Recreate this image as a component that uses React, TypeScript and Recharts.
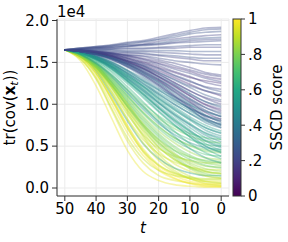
import React from "react";
import { LineChart, Line, XAxis, YAxis, CartesianGrid } from "recharts";

// diffusion timesteps (x axis, reversed)
const T = [50, 45, 40, 35, 30, 25, 20, 15, 10, 5, 0];
const X_TICKS = [0, 10, 20, 30, 40, 50];
const Y_TICKS = [0, 0.5, 1.0, 1.5, 2.0]; // units of 1e4
const CBAR_TICKS = [0, 0.2, 0.4, 0.6, 0.8, 1];
const CBAR_LABELS = ["0", ".2", ".4", ".6", ".8", "1"];

// tr(cov(x_t)) trajectories in units of 1e4, one per sample, with SSCD score
// yellow (high score)
const yellowScores = [0.97, 0.99, 0.93, 0.95, 1.0, 0.91, 0.96, 0.9, 0.94, 0.55, 0.88, 0.92, 0.86, 0.89, 0.98, 0.93, 0.9];
const yellowLines = [
  [1.65, 1.52, 1.22, 0.83, 0.45, 0.2, 0.09, 0.04, 0.02, 0.01, 0.01],
  [1.65, 1.57, 1.37, 1.06, 0.72, 0.43, 0.23, 0.12, 0.05, 0.02, 0.02],
  [1.65, 1.59, 1.44, 1.2, 0.9, 0.61, 0.37, 0.21, 0.11, 0.05, 0.03],
  [1.65, 1.54, 1.3, 0.93, 0.56, 0.3, 0.15, 0.09, 0.06, 0.04, 0.04],
  [1.65, 1.57, 1.38, 1.07, 0.74, 0.45, 0.26, 0.15, 0.08, 0.05, 0.05],
  [1.65, 1.59, 1.44, 1.2, 0.92, 0.63, 0.4, 0.24, 0.14, 0.08, 0.06],
  [1.65, 1.57, 1.38, 1.08, 0.75, 0.47, 0.28, 0.17, 0.11, 0.08, 0.08],
  [1.65, 1.54, 1.31, 0.95, 0.6, 0.35, 0.21, 0.15, 0.12, 0.1, 0.1],
  [1.65, 1.59, 1.45, 1.22, 0.95, 0.67, 0.44, 0.29, 0.2, 0.14, 0.12],
  [1.65, 1.58, 1.4, 1.11, 0.8, 0.53, 0.35, 0.24, 0.18, 0.15, 0.15],
  [1.65, 1.59, 1.46, 1.24, 0.97, 0.71, 0.49, 0.34, 0.25, 0.2, 0.18],
  [1.65, 1.58, 1.41, 1.14, 0.83, 0.58, 0.41, 0.31, 0.25, 0.22, 0.22],
  [1.65, 1.59, 1.47, 1.26, 1.01, 0.75, 0.54, 0.4, 0.32, 0.26, 0.25],
  [1.65, 1.58, 1.42, 1.16, 0.88, 0.64, 0.47, 0.38, 0.33, 0.3, 0.3],
  [1.65, 1.55, 1.33, 1.0, 0.66, 0.39, 0.21, 0.11, 0.06, 0.03, 0.02],
  [1.65, 1.58, 1.41, 1.13, 0.82, 0.54, 0.33, 0.19, 0.11, 0.07, 0.06],
  [1.65, 1.56, 1.36, 1.05, 0.71, 0.44, 0.27, 0.18, 0.13, 0.11, 0.11],
];
// green
const greenScores = [0.72, 0.78, 0.66, 0.5, 0.81, 0.7, 0.84, 0.76, 0.8, 0.74, 0.83, 0.86, 0.79, 0.85, 0.8, 0.75, 0.88];
const greenLines = [
  [1.65, 1.6, 1.5, 1.35, 1.18, 1.01, 0.86, 0.74, 0.65, 0.6, 0.58],
  [1.65, 1.59, 1.49, 1.34, 1.16, 0.98, 0.83, 0.71, 0.62, 0.56, 0.54],
  [1.65, 1.59, 1.49, 1.33, 1.14, 0.96, 0.8, 0.67, 0.58, 0.52, 0.5],
  [1.65, 1.59, 1.48, 1.32, 1.13, 0.94, 0.77, 0.64, 0.54, 0.48, 0.46],
  [1.65, 1.59, 1.48, 1.31, 1.11, 0.91, 0.74, 0.6, 0.5, 0.44, 0.42],
  [1.65, 1.59, 1.47, 1.29, 1.09, 0.89, 0.71, 0.57, 0.47, 0.4, 0.38],
  [1.65, 1.58, 1.47, 1.28, 1.07, 0.86, 0.68, 0.54, 0.43, 0.36, 0.34],
  [1.65, 1.58, 1.46, 1.27, 1.06, 0.84, 0.65, 0.5, 0.39, 0.32, 0.3],
  [1.65, 1.58, 1.46, 1.26, 1.04, 0.82, 0.63, 0.48, 0.37, 0.3, 0.27],
  [1.65, 1.58, 1.45, 1.26, 1.03, 0.8, 0.61, 0.45, 0.34, 0.27, 0.24],
  [1.65, 1.58, 1.45, 1.24, 1.01, 0.78, 0.58, 0.42, 0.3, 0.23, 0.2],
  [1.65, 1.57, 1.44, 1.24, 1.0, 0.76, 0.56, 0.4, 0.28, 0.2, 0.17],
  [1.65, 1.57, 1.44, 1.23, 0.98, 0.74, 0.54, 0.38, 0.25, 0.17, 0.14],
  [1.65, 1.57, 1.43, 1.22, 0.97, 0.73, 0.52, 0.36, 0.23, 0.15, 0.12],
  [1.65, 1.58, 1.44, 1.22, 0.98, 0.76, 0.58, 0.45, 0.37, 0.33, 0.32],
  [1.65, 1.59, 1.47, 1.3, 1.1, 0.9, 0.73, 0.6, 0.51, 0.46, 0.44],
  [1.65, 1.57, 1.42, 1.19, 0.93, 0.69, 0.49, 0.34, 0.24, 0.19, 0.17],
];
// teal
const tealScores = [0.42, 0.45, 0.5, 0.4, 0.55, 0.47, 0.52, 0.6, 0.44, 0.57, 0.5, 0.62, 0.48, 0.58, 0.4, 0.43, 0.52, 0.46, 0.56, 0.6, 0.64, 0.54];
const tealLines = [
  [1.65, 1.63, 1.58, 1.51, 1.41, 1.31, 1.19, 1.09, 0.99, 0.91, 0.85],
  [1.65, 1.62, 1.57, 1.5, 1.4, 1.28, 1.17, 1.06, 0.95, 0.86, 0.8],
  [1.65, 1.62, 1.57, 1.49, 1.38, 1.27, 1.14, 1.03, 0.92, 0.82, 0.76],
  [1.65, 1.62, 1.57, 1.48, 1.37, 1.25, 1.12, 1.0, 0.89, 0.78, 0.72],
  [1.65, 1.62, 1.56, 1.48, 1.36, 1.23, 1.1, 0.97, 0.85, 0.75, 0.68],
  [1.65, 1.62, 1.56, 1.47, 1.35, 1.22, 1.08, 0.95, 0.83, 0.72, 0.65],
  [1.65, 1.62, 1.56, 1.46, 1.34, 1.21, 1.06, 0.93, 0.81, 0.69, 0.62],
  [1.65, 1.62, 1.55, 1.46, 1.33, 1.19, 1.04, 0.9, 0.77, 0.65, 0.58],
  [1.65, 1.62, 1.55, 1.45, 1.32, 1.18, 1.02, 0.88, 0.75, 0.63, 0.55],
  [1.65, 1.62, 1.55, 1.45, 1.31, 1.16, 1.01, 0.86, 0.72, 0.6, 0.52],
  [1.65, 1.61, 1.54, 1.44, 1.3, 1.15, 0.98, 0.83, 0.69, 0.56, 0.48],
  [1.65, 1.61, 1.54, 1.43, 1.29, 1.13, 0.96, 0.81, 0.67, 0.53, 0.45],
  [1.65, 1.61, 1.54, 1.43, 1.28, 1.12, 0.95, 0.79, 0.64, 0.5, 0.42],
  [1.65, 1.61, 1.53, 1.42, 1.27, 1.1, 0.92, 0.76, 0.61, 0.47, 0.38],
  [1.65, 1.63, 1.58, 1.5, 1.4, 1.29, 1.17, 1.05, 0.95, 0.87, 0.82],
  [1.65, 1.62, 1.56, 1.48, 1.37, 1.25, 1.12, 1.0, 0.89, 0.8, 0.74],
  [1.65, 1.62, 1.55, 1.46, 1.34, 1.21, 1.07, 0.94, 0.82, 0.72, 0.66],
  [1.65, 1.61, 1.54, 1.44, 1.31, 1.17, 1.02, 0.88, 0.76, 0.66, 0.6],
  [1.65, 1.61, 1.53, 1.42, 1.28, 1.12, 0.96, 0.81, 0.68, 0.57, 0.5],
  [1.65, 1.6, 1.52, 1.4, 1.25, 1.08, 0.91, 0.75, 0.61, 0.5, 0.43],
  [1.65, 1.6, 1.51, 1.38, 1.21, 1.03, 0.85, 0.68, 0.53, 0.42, 0.35],
  [1.65, 1.59, 1.49, 1.35, 1.17, 0.98, 0.79, 0.62, 0.47, 0.36, 0.3],
];
// dark blue / purple
const blueScores = [0.2, 0.15, 0.22, 0.18, 0.25, 0.12, 0.28, 0.2, 0.3, 0.16, 0.33, 0.24, 0.1, 0.35, 0.27, 0.31, 0.14, 0.21, 0.26, 0.18, 0.29, 0.13, 0.23, 0.32, 0.19, 0.3];
const blueLines = [
  [1.65, 1.64, 1.63, 1.61, 1.58, 1.55, 1.51, 1.46, 1.41, 1.36, 1.33],
  [1.65, 1.64, 1.63, 1.61, 1.58, 1.54, 1.49, 1.44, 1.39, 1.33, 1.3],
  [1.65, 1.64, 1.63, 1.6, 1.57, 1.53, 1.48, 1.42, 1.37, 1.31, 1.27],
  [1.65, 1.64, 1.62, 1.6, 1.56, 1.51, 1.46, 1.39, 1.33, 1.26, 1.22],
  [1.65, 1.64, 1.62, 1.59, 1.55, 1.49, 1.43, 1.35, 1.28, 1.2, 1.15],
  [1.65, 1.64, 1.62, 1.58, 1.53, 1.47, 1.4, 1.32, 1.24, 1.16, 1.1],
  [1.65, 1.64, 1.61, 1.58, 1.52, 1.46, 1.38, 1.29, 1.2, 1.11, 1.05],
  [1.65, 1.64, 1.61, 1.57, 1.51, 1.44, 1.36, 1.26, 1.16, 1.07, 1.0],
  [1.65, 1.64, 1.61, 1.57, 1.5, 1.43, 1.34, 1.24, 1.13, 1.03, 0.96],
  [1.65, 1.64, 1.61, 1.56, 1.5, 1.42, 1.32, 1.21, 1.1, 0.99, 0.92],
  [1.65, 1.63, 1.6, 1.56, 1.49, 1.4, 1.3, 1.19, 1.07, 0.96, 0.88],
  [1.65, 1.63, 1.6, 1.55, 1.48, 1.39, 1.29, 1.17, 1.05, 0.93, 0.85],
  [1.65, 1.63, 1.6, 1.55, 1.48, 1.38, 1.28, 1.15, 1.03, 0.9, 0.82],
  [1.65, 1.63, 1.6, 1.55, 1.47, 1.37, 1.26, 1.13, 1.0, 0.87, 0.78],
  [1.65, 1.63, 1.6, 1.54, 1.46, 1.36, 1.25, 1.11, 0.98, 0.84, 0.75],
  [1.65, 1.63, 1.59, 1.54, 1.45, 1.35, 1.23, 1.09, 0.95, 0.81, 0.72],
  [1.65, 1.64, 1.62, 1.59, 1.55, 1.5, 1.44, 1.38, 1.32, 1.28, 1.25],
  [1.65, 1.64, 1.62, 1.59, 1.54, 1.48, 1.42, 1.34, 1.27, 1.21, 1.18],
  [1.65, 1.63, 1.61, 1.57, 1.52, 1.46, 1.38, 1.3, 1.22, 1.16, 1.12],
  [1.65, 1.64, 1.62, 1.58, 1.52, 1.45, 1.36, 1.26, 1.16, 1.08, 1.03],
  [1.65, 1.63, 1.6, 1.56, 1.5, 1.42, 1.33, 1.23, 1.12, 1.03, 0.98],
  [1.65, 1.64, 1.61, 1.57, 1.51, 1.43, 1.33, 1.22, 1.1, 1.0, 0.94],
  [1.65, 1.63, 1.6, 1.55, 1.48, 1.4, 1.3, 1.18, 1.06, 0.96, 0.9],
  [1.65, 1.63, 1.6, 1.55, 1.47, 1.38, 1.27, 1.15, 1.02, 0.92, 0.86],
  [1.65, 1.63, 1.59, 1.53, 1.45, 1.35, 1.23, 1.1, 0.97, 0.86, 0.8],
  [1.65, 1.63, 1.59, 1.53, 1.44, 1.33, 1.21, 1.07, 0.94, 0.82, 0.76],
];
// light lavender (flat / rising)
const lavenderScores = [0.22, 0.25, 0.2, 0.27, 0.23, 0.24, 0.21, 0.26, 0.22, 0.25, 0.2, 0.23, 0.24, 0.22, 0.2];
const lavenderLines = [
  [1.65, 1.67, 1.69, 1.71, 1.74, 1.76, 1.8, 1.84, 1.88, 1.91, 1.92],
  [1.65, 1.67, 1.68, 1.7, 1.72, 1.74, 1.77, 1.8, 1.84, 1.86, 1.87],
  [1.65, 1.66, 1.68, 1.69, 1.71, 1.72, 1.75, 1.78, 1.8, 1.82, 1.83],
  [1.65, 1.66, 1.67, 1.68, 1.7, 1.71, 1.73, 1.76, 1.78, 1.79, 1.8],
  [1.65, 1.66, 1.67, 1.67, 1.69, 1.7, 1.71, 1.73, 1.74, 1.75, 1.76],
  [1.65, 1.65, 1.66, 1.66, 1.67, 1.67, 1.68, 1.69, 1.7, 1.71, 1.71],
  [1.65, 1.65, 1.65, 1.66, 1.66, 1.66, 1.67, 1.67, 1.68, 1.68, 1.68],
  [1.65, 1.65, 1.65, 1.65, 1.64, 1.64, 1.64, 1.64, 1.63, 1.63, 1.63],
  [1.65, 1.65, 1.64, 1.64, 1.63, 1.63, 1.62, 1.61, 1.6, 1.59, 1.59],
  [1.65, 1.64, 1.64, 1.63, 1.62, 1.61, 1.59, 1.58, 1.56, 1.55, 1.55],
  [1.65, 1.64, 1.63, 1.62, 1.61, 1.6, 1.58, 1.56, 1.54, 1.52, 1.52],
  [1.65, 1.64, 1.62, 1.61, 1.59, 1.58, 1.55, 1.52, 1.5, 1.48, 1.47],
  [1.65, 1.67, 1.69, 1.7, 1.73, 1.75, 1.78, 1.82, 1.86, 1.89, 1.9],
  [1.65, 1.66, 1.67, 1.68, 1.69, 1.71, 1.72, 1.74, 1.76, 1.77, 1.78],
  [1.65, 1.64, 1.63, 1.61, 1.59, 1.57, 1.53, 1.49, 1.44, 1.38, 1.35],
];

const SERIES = [...yellowLines, ...greenLines, ...tealLines, ...blueLines, ...lavenderLines];
const SCORES = [...yellowScores, ...greenScores, ...tealScores, ...blueScores, ...lavenderScores];

const VIRIDIS = [
  "#440154", "#482475", "#414487", "#355f8d", "#2a788e", "#21918c",
  "#22a884", "#44bf70", "#7ad151", "#bddf26", "#fde725",
];
function hexToRgb(h: string) {
  return [parseInt(h.slice(1, 3), 16), parseInt(h.slice(3, 5), 16), parseInt(h.slice(5, 7), 16)];
}
function viridis(v: number) {
  const x = Math.max(0, Math.min(1, v)) * 10;
  const i = Math.min(9, Math.floor(x));
  const f = x - i;
  const a = hexToRgb(VIRIDIS[i]);
  const b = hexToRgb(VIRIDIS[i + 1]);
  const c = a.map((av, k) => Math.round(av + (b[k] - av) * f));
  return `rgb(${c[0]},${c[1]},${c[2]})`;
}

const data = T.map((t, i) => {
  const row: Record<string, number> = { t };
  SERIES.forEach((s, j) => {
    row["s" + j] = s[i];
  });
  return row;
});

const FONT = "DejaVu Sans";
const W = 288;
const H = 242;
const PLOT = { left: 57, top: 19, right: 229, bottom: 196 };
const CBAR = { x: 233, w: 8, top: 19, bottom: 196 };

export default function App() {
  const cbH = CBAR.bottom - CBAR.top;
  return (
    <div style={{ position: "absolute", left: 0, top: 0, width: W, height: H, background: "#fff" }}>
      <LineChart
        width={W}
        height={H}
        data={data}
        margin={{ top: PLOT.top, right: W - PLOT.right, bottom: H - PLOT.bottom - 30, left: PLOT.left - 45 }}
      >
        <CartesianGrid stroke="#ebebeb" strokeWidth={1} />
        <XAxis
          dataKey="t"
          type="number"
          domain={[-2.5, 52.5]}
          reversed
          ticks={X_TICKS}
          height={30}
          tickSize={5}
          tickMargin={2}
          axisLine={{ stroke: "#333" }}
          tickLine={{ stroke: "#333" }}
          tick={{ fontSize: 15, fill: "#000", fontFamily: FONT }}
          allowDataOverflow
        />
        <XAxis xAxisId="top" orientation="top" dataKey="t" type="number" domain={[-2.5, 52.5]} reversed height={0} tick={false} tickLine={false} axisLine={{ stroke: "#333" }} />
        <YAxis
          type="number"
          domain={[-0.0955, 2.018]}
          ticks={Y_TICKS}
          width={45}
          tickSize={5}
          tickMargin={3}
          tickFormatter={(v: number) => v.toFixed(1)}
          axisLine={{ stroke: "#333" }}
          tickLine={{ stroke: "#333" }}
          tick={{ fontSize: 15, fill: "#000", fontFamily: FONT }}
          allowDataOverflow
        />
        <YAxis yAxisId="right" orientation="right" type="number" domain={[-0.0955, 2.018]} width={0} tick={false} tickLine={false} axisLine={{ stroke: "#333" }} />
        {SERIES.map((_, j) => (
          <Line
            key={j}
            dataKey={"s" + j}
            type="monotone"
            stroke={viridis(SCORES[j])}
            strokeOpacity={0.38}
            strokeWidth={1.6}
            dot={false}
            activeDot={false}
            isAnimationActive={false}
          />
        ))}
      </LineChart>
      <svg width={W} height={H} style={{ position: "absolute", left: 0, top: 0, pointerEvents: "none" }}>
        <defs>
          <linearGradient id="vir" x1="0" y1="1" x2="0" y2="0">
            {VIRIDIS.map((c, i) => (
              <stop key={i} offset={i / 10} stopColor={c} />
            ))}
          </linearGradient>
        </defs>
        <text x={PLOT.left} y={17} fontSize={15} fontFamily={FONT} fill="#000">1e4</text>
        <text
          transform={`translate(15, ${(PLOT.top + PLOT.bottom) / 2}) rotate(-90)`}
          textAnchor="middle"
          fontSize={15}
          fontFamily={FONT}
          fill="#000"
        >
          <tspan>tr(cov(</tspan>
          <tspan fontWeight="bold">x</tspan>
          <tspan fontStyle="italic" fontSize={11} dy={3}>t</tspan>
          <tspan dy={-3}>))</tspan>
        </text>
        <text x={(PLOT.left + PLOT.right) / 2} y={233} textAnchor="middle" fontSize={15} fontStyle="italic" fontFamily={FONT} fill="#000">t</text>
        <rect x={CBAR.x} y={CBAR.top} width={CBAR.w} height={cbH} fill="url(#vir)" stroke="#333" strokeWidth={1} />
        {CBAR_TICKS.map((v, i) => {
          const y = CBAR.bottom - v * cbH;
          return (
            <g key={i}>
              <line x1={CBAR.x + CBAR.w} x2={CBAR.x + CBAR.w + 4} y1={y} y2={y} stroke="#333" />
              <text x={CBAR.x + CBAR.w + 7} y={y} dy="0.36em" fontSize={15} fontFamily={FONT} fill="#000">{CBAR_LABELS[i]}</text>
            </g>
          );
        })}
        <text
          transform={`translate(277, ${(CBAR.top + CBAR.bottom) / 2}) rotate(-90)`}
          textAnchor="middle"
          dy="0.36em"
          fontSize={15}
          fontFamily={FONT}
          fill="#000"
        >SSCD score</text>
      </svg>
    </div>
  );
}
